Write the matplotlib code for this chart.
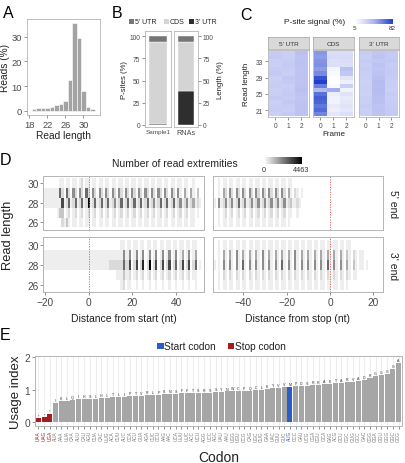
import numpy as np
import matplotlib
matplotlib.use("Agg")
import matplotlib.pyplot as plt
from matplotlib.colors import LinearSegmentedColormap
from matplotlib.patches import Rectangle

W, H = 406, 464

# ---- A: read length distribution ----
read_lengths = [19, 20, 21, 22, 23, 24, 25, 26, 27, 28, 29, 30, 31, 32]
reads_pct = [0.9, 1.0, 1.1, 1.3, 1.5, 2.3, 2.8, 4.0, 12.3, 35.4, 29.3, 8.1, 1.4, 0.6]

# ---- B: P-sites per region vs. region length ----
regions = ["5' UTR", "CDS", "3' UTR"]
region_colors = ["#767676", "#d4d4d4", "#2e2e2e"]
psite_pct = [6.5, 92.0, 1.5]      # Sample1
length_pct = [6.5, 55.0, 38.5]    # RNAs
b_samples = ["Sample1", "RNAs"]

# ---- C: P-site signal per frame (read lengths 20..35, bottom to top) ----
c_lengths = list(range(20, 36))
utr5_f0 = [30, 32, 31, 30, 33, 31, 30, 32, 31, 30, 33, 32, 30, 31, 33, 32]
utr5_f1 = [33, 31, 32, 34, 32, 33, 32, 31, 33, 34, 31, 32, 33, 32, 31, 30]
utr5_f2 = [37, 37, 37, 36, 35, 36, 38, 37, 36, 36, 36, 36, 37, 37, 36, 38]
cds_f0 = [60, 68, 64, 70, 72, 66, 42, 62, 82, 76, 58, 52, 56, 55, 52, 54]
cds_f1 = [18, 14, 16, 12, 12, 14, 46, 8, 5, 5, 8, 10, 22, 22, 24, 23]
cds_f2 = [22, 18, 20, 18, 16, 20, 12, 30, 13, 19, 34, 38, 22, 23, 24, 23]
utr3_f0 = [31, 30, 32, 30, 31, 29, 30, 30, 29, 30, 31, 32, 31, 32, 31, 32]
utr3_f1 = [36, 37, 36, 38, 38, 39, 40, 39, 40, 38, 36, 35, 37, 34, 36, 35]
utr3_f2 = [33, 33, 32, 32, 31, 32, 30, 31, 31, 32, 33, 33, 32, 34, 33, 33]

# ---- D: read extremities (rows = read length 30..26, one digit per nt) ----
d_lengths = [26, 27, 28, 29, 30]
d_levels = [0, 300, 650, 1000, 1500, 2000, 2600, 3200, 3800, 4463]
d_max = 4463
start_x0 = -20   # first position, distance from start
stop_x0 = -53    # first position, distance from stop

d_5end_start = [
    "00 000 001 101 101 101 201 101 101 101 101 101 101 101 101 101 101 101 101 101 101 101 100 100 00",
    "11 111 116 206 205 205 206 205 205 205 205 205 205 205 205 205 205 205 205 205 205 104 104 103 00",
    "11 111 111 712 612 612 612 912 612 612 612 512 612 612 612 612 612 512 612 612 612 512 512 412 10",
    "00 000 013 301 201 201 201 201 201 201 201 201 201 201 201 201 201 201 201 201 201 201 201 101 00",
    "00 000 000 213 101 101 101 101 101 101 101 101 101 101 101 101 101 101 101 101 101 101 101 100 00",
]
d_3end_start = [
    "00 000 000 000 000 000 000 000 000 000 000 000 110 110 110 110 110 110 110 110 110 110 110 110 00",
    "11 111 111 111 111 111 111 111 111 111 111 111 151 150 150 150 150 150 150 150 150 140 150 140 00",
    "11 111 111 111 111 111 111 111 111 111 122 222 262 270 270 280 290 270 270 270 260 270 270 260 10",
    "00 000 000 000 000 000 000 000 000 000 000 011 131 120 120 120 120 120 120 120 120 120 120 110 00",
    "00 000 000 000 000 000 000 000 000 000 000 000 120 110 010 010 010 010 010 010 010 010 010 010 00",
]
d_5end_stop = [
    "00 101 101 101 101 101 101 101 101 101 101 101 100 000 000 000 000 000 000 000 000 000 000 000 000 000",
    "00 104 205 205 205 205 205 205 205 205 205 204 102 101 000 000 000 000 000 000 000 000 000 000 000 000",
    "10 512 512 512 612 512 512 512 512 512 512 512 311 210 000 000 000 000 000 000 000 000 000 000 000 000",
    "00 101 201 201 201 201 201 201 201 201 201 201 100 100 000 000 000 000 000 000 000 000 000 000 000 000",
    "00 101 101 101 101 101 101 101 101 101 101 101 000 000 000 000 000 000 000 000 000 000 000 000 000 000",
]
d_3end_stop = [
    "00 101 101 101 101 101 101 101 101 101 101 101 101 101 101 101 101 101 101 101 101 100 000 000 000 000",
    "00 104 104 105 104 104 104 105 104 104 104 104 105 104 104 104 104 104 104 104 103 102 101 100 000 000",
    "10 105 105 105 106 105 105 105 105 105 106 105 105 105 105 105 105 106 105 105 104 103 101 101 000 000",
    "00 102 102 102 102 102 102 102 102 102 102 102 102 102 102 102 102 102 102 102 102 101 100 000 000 000",
    "00 101 101 101 101 101 101 101 101 101 101 101 101 101 101 101 101 101 101 101 101 000 000 000 000 000",
]

# ---- E: codon usage index ----
codons = ["UAA", "UAG", "UGA",
          "AUA", "AAA", "UUA", "CAA", "AUU", "CAU", "AGU", "CUA", "CAC", "UUG",
          "ACA", "CUU", "AUC", "CCA", "ACU", "GUA", "AGA", "CUC", "CCU", "AAG",
          "AAC", "UCA", "UUU", "UUC", "ACC", "UCU", "AGG", "UCC", "AGC", "UAU",
          "AAU", "UGG", "UGU", "CCG", "CAG", "UGC", "CUG", "GAA", "UAC", "GUU",
          "GUC", "AUG", "CCC", "GAU", "UCG", "CGA", "CGU", "GCA", "GAG", "ACG",
          "GCU", "CGC", "GUG", "GCC", "GAC", "CGG", "GGA", "GGU", "GGG", "GGC",
          "GCG"]
amino_acids = list("***IKLQIHSLHLTLIPTVRLPKNSFFTSRSSYNWCPQCLEYVVMPDSRRAETARVADRGGGGA")
usage_index = [0.13, 0.16, 0.26,
               0.60, 0.66, 0.67, 0.69, 0.71, 0.72, 0.72, 0.73, 0.75, 0.76,
               0.78, 0.79, 0.79, 0.80, 0.81, 0.82, 0.83, 0.84, 0.85, 0.86,
               0.87, 0.88, 0.89, 0.89, 0.90, 0.90, 0.91, 0.91, 0.92, 0.93,
               0.95, 0.96, 0.97, 0.98, 0.98, 0.99, 1.01, 1.03, 1.05, 1.06,
               1.08, 1.10, 1.11, 1.12, 1.13, 1.15, 1.16, 1.18, 1.19, 1.21,
               1.22, 1.23, 1.25, 1.28, 1.31, 1.36, 1.42, 1.45, 1.48, 1.65,
               1.82]
start_codons = ["AUG"]
stop_codons = ["UAA", "UAG", "UGA"]

GRID = "#b5b5b5"
TXT = "#4a4a4a"
plt.rcParams["font.family"] = ["Liberation Sans", "DejaVu Sans"]

fig = plt.figure(figsize=(W / 100, H / 100), dpi=100)


def add_ax(l, t, r, b):
    return fig.add_axes([l / W, 1 - b / H, (r - l) / W, (b - t) / H])


def ftext(x, y, s, **kw):
    return fig.text(x / W, 1 - y / H, s, **kw)


def fsquare(x, y, size, color):
    fig.add_artist(Rectangle((x / W, 1 - (y + size) / H), size / W, size / H,
                             transform=fig.transFigure, color=color, lw=0))


def style(ax, labelsize, lw=0.6):
    for s in ax.spines.values():
        s.set_color(GRID)
        s.set_linewidth(lw)
    ax.tick_params(length=2, width=0.5, color="#666666", labelcolor=TXT,
                   labelsize=labelsize, pad=1.5)


def decode(rows):
    grid = [[d_levels[int(c)] for c in r.replace(" ", "")] for r in rows]
    return np.array(grid[::-1], dtype=float)


# ================= A =================
axA = add_ax(27, 20, 100, 116)
axA.bar(read_lengths, reads_pct, width=1.0, color="#a3a3a3", edgecolor="white", linewidth=0.4)
axA.set_xlim(17.5, 33.7)
axA.set_ylim(-1.7, 37.1)
axA.set_xticks([18, 22, 26, 30])
axA.set_yticks([0, 10, 20, 30])
style(axA, 6.7)
axA.set_xlabel("Read length", fontsize=7.3, color="#222222", labelpad=1)
axA.set_ylabel("Reads (%)", fontsize=7.3, color="#222222", labelpad=1.5)
ftext(3, 6, "A", fontsize=11.5, va="top")

# ================= B =================
axB1 = add_ax(145, 32, 171, 128)
axB2 = add_ax(174, 32, 198, 128)
for ax, vals, name in ((axB1, psite_pct, b_samples[0]), (axB2, length_pct, b_samples[1])):
    bottom = 0
    for v, c in zip(vals[::-1], region_colors[::-1]):
        ax.bar(0, v, bottom=bottom, width=0.9, color=c, edgecolor="white", linewidth=0.3)
        bottom += v
    ax.set_xlim(-0.68, 0.68)
    ax.set_ylim(-2.3, 106)
    ax.set_xticks([0])
    ax.set_xticklabels([name])
    ax.set_yticks([0, 25, 50, 75, 100])
    style(ax, 4.8)
axB1.tick_params(axis="x", length=0, labelsize=4.6)
axB2.tick_params(axis="x", length=0, labelsize=5.2)
axB1.set_ylabel("P-sites (%)", fontsize=5.6, color="#222222", labelpad=1)
axB2.yaxis.tick_right()
axB2.yaxis.set_label_position("right")
axB2.set_ylabel("Length (%)", fontsize=5.6, color="#222222", labelpad=2)
ftext(112, 6, "B", fontsize=11.5, va="top")
for (sx, tx), name, c in zip([(129, 135), (164, 170), (189, 195)], regions, region_colors):
    fsquare(sx, 19.5, 5, c)
    ftext(tx, 22.3, name, fontsize=5, va="center", color="#222222")

# ================= C =================
cmap_c = LinearSegmentedColormap.from_list("psite", ["#ffffff", "#aeb6ee", "#1f40cc"], N=256)
facets = [("5' UTR", [utr5_f0, utr5_f1, utr5_f2], 268, 309),
          ("CDS", [cds_f0, cds_f1, cds_f2], 313, 354),
          ("3' UTR", [utr3_f0, utr3_f1, utr3_f2], 359, 399)]
for i, (name, frames, l, r) in enumerate(facets):
    ax = add_ax(l, 50.7, r, 118.3)
    Z = np.array(frames, dtype=float).T
    ax.pcolormesh(np.arange(-0.5, 3.0), np.arange(c_lengths[0] - 0.5, c_lengths[-1] + 1.0), Z,
                  cmap=cmap_c, vmin=5, vmax=82, edgecolors="face", linewidth=0)
    ax.set_xlim(-0.55, 2.6)
    ax.set_ylim(19.3, 35.8)
    ax.set_xticks([0, 1, 2])
    ax.set_yticks([21, 25, 29, 33])
    style(ax, 4.8)
    if i > 0:
        ax.tick_params(axis="y", left=False, labelleft=False)
    sax = add_ax(l, 38.3, r, 50)
    sax.set_xticks([])
    sax.set_yticks([])
    sax.set_facecolor("#d9d9d9")
    for s in sax.spines.values():
        s.set_color("#a6a6a6")
        s.set_linewidth(0.5)
    sax.text(0.5, 0.5, name, transform=sax.transAxes, ha="center", va="center",
             fontsize=4.6, color="#333333")
ftext(247, 84.5, "Read length", rotation=90, fontsize=5.8, ha="center", va="center", color="#222222")
ftext(334, 134.5, "Frame", fontsize=5.8, ha="center", va="center", color="#222222")
ftext(240, 8, "C", fontsize=11.5, va="top")
ftext(345, 22.5, "P-site signal (%)", fontsize=6.0, ha="right", va="center", color="#222222")
cbC = add_ax(355, 19.5, 393, 24.5)
cbC.imshow(np.linspace(0, 1, 200)[None, :], aspect="auto", cmap=cmap_c, extent=(0, 1, 0, 1))
cbC.axis("off")
ftext(355, 28.8, "5", fontsize=4.6, ha="center", va="center", color="#333333")
ftext(392, 28.8, "82", fontsize=4.6, ha="center", va="center", color="#333333")

# ================= D =================
cmap_d = LinearSegmentedColormap.from_list("ext", ["#ffffff", "#000000"], N=256)
d_panels = [
    (d_5end_start, start_x0, 43.3, 176.7, 204.0, 230.7, (-20.8, 52.8), False, True),
    (d_3end_start, start_x0, 43.3, 238.3, 204.0, 293.0, (-20.8, 52.8), True, True),
    (d_5end_stop, stop_x0, 213.3, 176.7, 382.7, 230.7, (-53.8, 24.3), False, False),
    (d_3end_stop, stop_x0, 213.3, 238.3, 382.7, 293.0, (-53.8, 24.3), True, False),
]
for rows, x0, l, t, r, b, xlim, bottom_row, left_col in d_panels:
    Z = decode(rows)
    n = Z.shape[1]
    ax = add_ax(l, t, r, b)
    ax.pcolormesh(np.arange(x0 - 0.5, x0 + n), np.arange(d_lengths[0] - 0.5, d_lengths[-1] + 1.0),
                  Z, cmap=cmap_d, vmin=0, vmax=d_max, edgecolors="face", linewidth=0)
    ax.axvline(0, color="#e8595b", lw=0.6, ls=(0, (1.5, 1.5)))
    ax.set_xlim(*xlim)
    ax.set_ylim(25.27, 30.73)
    ax.set_yticks([26, 28, 30])
    ax.set_xticks([-20, 0, 20, 40] if left_col else [-40, -20, 0, 20])
    style(ax, 7.3, lw=0.7)
    if not bottom_row:
        ax.tick_params(axis="x", bottom=False, labelbottom=False)
    if not left_col:
        ax.tick_params(axis="y", left=False, labelleft=False)
ftext(392.7, 203.7, "5' end", rotation=270, fontsize=7.5, ha="center", va="center", color="#222222")
ftext(392.7, 265.7, "3' end", rotation=270, fontsize=7.5, ha="center", va="center", color="#222222")
ftext(8.5, 235, "Read length", rotation=90, fontsize=9.3, ha="center", va="center", color="#222222")
ftext(123.6, 319.3, "Distance from start (nt)", fontsize=7.5, ha="center", va="center", color="#222222")
ftext(298, 319.3, "Distance from stop (nt)", fontsize=7.5, ha="center", va="center", color="#222222")
ftext(0, 153, "D", fontsize=11.5, va="top")
ftext(175, 164, "Number of read extremities", fontsize=7.5, ha="center", va="center", color="#222222")
cbD = add_ax(264, 157.5, 302, 165)
cbD.imshow(np.linspace(0, 1, 200)[None, :], aspect="auto", cmap=cmap_d, extent=(0, 1, 0, 1))
cbD.axis("off")
ftext(264, 170.5, "0", fontsize=5.2, ha="center", va="center", color="#333333")
ftext(301, 170.5, "4463", fontsize=5.2, ha="center", va="center", color="#333333")

# ================= E =================
axE = add_ax(35, 357, 402, 427)
xpos = np.arange(1, len(codons) + 1)
bar_colors = []
label_colors = []
for c in codons:
    if c in stop_codons:
        bar_colors.append("#a51d1f")
        label_colors.append("#a51d1f")
    elif c in start_codons:
        bar_colors.append("#2c5cc8")
        label_colors.append("#2c5cc8")
    else:
        bar_colors.append("#a6a6a6")
        label_colors.append("#7a7a7a")
for x in xpos:
    axE.axvline(x, color="#e6e6e6", lw=0.5, zorder=0)
axE.bar(xpos, usage_index, width=0.88, color=bar_colors, linewidth=0, zorder=2)
for x, v, aa in zip(xpos, usage_index, amino_acids):
    axE.text(x, v + 0.03, aa, fontsize=2.6, ha="center", va="bottom", color="#333333", zorder=3)
axE.set_xlim(0.4, len(codons) + 0.6)
axE.set_ylim(-0.11, 2.04)
axE.set_yticks([0, 1, 2])
axE.set_xticks(xpos)
axE.set_xticklabels(codons, rotation=90, fontsize=3.4)
style(axE, 7.3, lw=0.7)
axE.tick_params(axis="x", labelsize=3.4, pad=1)
for lab, c in zip(axE.get_xticklabels(), label_colors):
    lab.set_color(c)
axE.set_ylabel("Usage index", fontsize=9.5, color="#222222", labelpad=2)
ftext(218.5, 458, "Codon", fontsize=10, ha="center", va="center", color="#222222")
ftext(0, 328, "E", fontsize=11.5, va="top")
fsquare(157, 343.5, 6.5, "#2c5cc8")
ftext(164.5, 347, "Start codon", fontsize=7.3, va="center", color="#222222")
fsquare(228, 343.5, 6.5, "#a51d1f")
ftext(235.5, 347, "Stop codon", fontsize=7.3, va="center", color="#222222")

fig.savefig("out.png", dpi=100)
